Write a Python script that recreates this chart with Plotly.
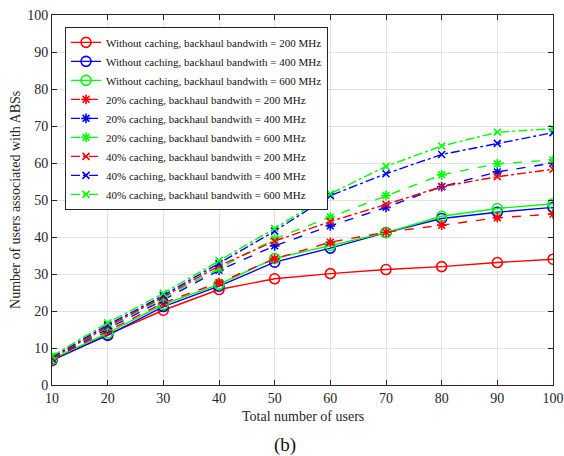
import plotly.graph_objects as go

x_users = [10, 20, 30, 40, 50, 60, 70, 80, 90, 100]

nc_200 = [6.6, 13.6, 20.2, 25.8, 28.7, 30.1, 31.2, 32.0, 33.1, 34.0]
nc_400 = [6.8, 13.4, 21.2, 26.7, 33.2, 37.0, 41.2, 45.0, 46.7, 48.0]
nc_600 = [7.0, 14.0, 21.8, 27.2, 34.2, 37.7, 41.2, 45.6, 47.7, 49.0]
c20_200 = [7.0, 14.6, 22.2, 27.7, 34.1, 38.6, 41.3, 43.2, 45.2, 46.2]
c20_400 = [7.1, 15.2, 23.0, 31.0, 37.6, 43.0, 48.0, 53.6, 57.6, 60.0]
c20_600 = [7.4, 15.6, 23.5, 31.5, 39.5, 45.4, 51.2, 56.8, 59.8, 60.8]
c40_200 = [7.2, 15.8, 23.8, 32.2, 38.9, 44.2, 48.8, 53.6, 56.3, 58.3]
c40_400 = [7.5, 16.2, 24.2, 32.8, 41.6, 51.2, 57.1, 62.3, 65.3, 68.2]
c40_600 = [7.8, 16.8, 24.8, 33.6, 42.3, 51.7, 59.1, 64.6, 68.3, 69.3]

names = [
    "Without caching, backhaul bandwith = 200 MHz",
    "Without caching, backhaul bandwith = 400 MHz",
    "Without caching, backhaul bandwith = 600 MHz",
    "20% caching, backhaul bandwith = 200 MHz",
    "20% caching, backhaul bandwith = 400 MHz",
    "20% caching, backhaul bandwith = 600 MHz",
    "40% caching, backhaul bandwith = 200 MHz",
    "40% caching, backhaul bandwith = 400 MHz",
    "40% caching, backhaul bandwith = 600 MHz",
]
x_title = "Total number of users"
y_title = "Number of users associated with ABSs"
caption = "(b)"

series = [nc_200, nc_400, nc_600, c20_200, c20_400, c20_600, c40_200, c40_400, c40_600]
colors = ["#FF0000", "#0000FF", "#00FF00"] * 3
dashes = ["solid"] * 3 + ["dash"] * 3 + ["dashdot"] * 3
symbols = ["circle-open"] * 3 + ["asterisk-open"] * 3 + ["x-thin-open"] * 3
sizes = [10] * 3 + [8] * 3 + [7] * 3

fig = go.Figure()
for name, ys, c, d, s, sz in zip(names, series, colors, dashes, symbols, sizes):
    fig.add_trace(go.Scatter(
        x=x_users, y=ys, name=name, mode="lines+markers",
        line=dict(color=c, dash=d, width=1.4),
        marker=dict(symbol=s, size=sz, color=c, line=dict(color=c, width=1.6)),
    ))

font_family = "Liberation Serif"
axis_common = dict(
    showline=True, linecolor="#262626", linewidth=1, mirror="ticks",
    ticks="inside", ticklen=5, tickcolor="#262626",
    showgrid=True, gridcolor="#E3E3E3", gridwidth=1, zeroline=False,
    automargin=False,
    tickfont=dict(family=font_family, size=14, color="#262626"),
)
fig.update_xaxes(range=[10, 100], dtick=10, **axis_common)
fig.update_yaxes(range=[0, 100], dtick=10, **axis_common)

title_font = dict(family=font_family, size=14, color="#262626")
fig.update_layout(
    width=564, height=456,
    margin=dict(l=52, r=11, t=15, b=71),
    paper_bgcolor="white", plot_bgcolor="white",
    font=dict(family=font_family, size=12, color="#262626"),
    showlegend=True,
    legend=dict(x=0.026, y=0.968, xanchor="left", yanchor="top",
                bgcolor="white", bordercolor="#262626", borderwidth=1,
                font=dict(family=font_family, size=11, color="#111111"),
                tracegroupgap=0, itemwidth=30),
    annotations=[
        dict(text=x_title, x=0.5, y=-0.084, xref="paper", yref="paper",
             xanchor="center", yanchor="middle", showarrow=False, font=title_font),
        dict(text=y_title, x=-0.074, y=0.5, xref="paper", yref="paper", textangle=-90,
             xanchor="center", yanchor="middle", showarrow=False, font=title_font),
        dict(text=caption, x=0.465, y=-0.163, xref="paper", yref="paper",
             xanchor="center", yanchor="middle", showarrow=False,
             font=dict(family=font_family, size=19, color="#111111")),
    ],
)

fig.write_html("out.html", config={"displayModeBar": False},
               post_script="document.body.style.margin='0';")
